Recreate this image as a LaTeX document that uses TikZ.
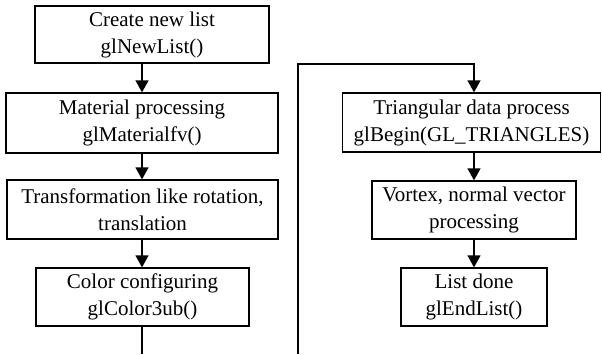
\documentclass[tikz,border=0pt]{standalone}
\usepackage{fontspec}
\setmainfont{Liberation Serif}
\usetikzlibrary{arrows.meta}
\begin{document}
\begin{tikzpicture}[x=1pt,y=1pt,
  box/.style={draw,line width=1.3pt,rectangle,inner sep=0pt,align=center,
    font=\fontsize{21}{27}\selectfont},
  flow/.style={line width=1.3pt,-{Triangle[width=13pt,length=12pt]}},
  plain/.style={line width=1.3pt}]
\useasboundingbox (0,0) rectangle (602,-354);
\node[box,minimum width=234pt,minimum height=57pt] (b1) at (152,-34.5) {Create new list\\glNewList()};
\node[box,minimum width=272pt,minimum height=60pt] (b2) at (142,-123) {Material processing\\glMaterialfv()};
\node[box,minimum width=271pt,minimum height=59pt] (b3) at (142.5,-209.5) {Transformation like rotation,\\translation};
\node[box,minimum width=213pt,minimum height=58pt] (b4) at (142.5,-297) {Color configuring\\glColor3ub()};
\node[box,minimum width=258pt,minimum height=59pt] (b5) at (471.5,-122.5) {Triangular data process\\glBegin(GL\_TRIANGLES)};
\node[box,minimum width=204pt,minimum height=58pt] (b6) at (474,-210) {Vortex, normal vector\\processing};
\node[box,minimum width=146pt,minimum height=58pt] (b7) at (474,-297) {List done\\glEndList()};
\coordinate (lend) at (142,-354);
\coordinate (rstart) at (298,-354);
\coordinate (rtop) at (298,-64);
\coordinate (rcorner) at (474,-64);
\draw[flow] (b1.south -| b2.north) -- (b2.north);
\draw[flow] (b2.south) -- (b3.north -| b2.south);
\draw[flow] (b3.south -| b2.south) -- (b4.north -| b2.south);
\draw[plain] (b4.south -| lend) -- (lend);
\draw[flow] (rstart) -- (rtop) -- (rcorner) -- (rcorner |- b5.north);
\draw[flow] (b5.south -| b6.north) -- (b6.north);
\draw[flow] (b6.south) -- (b7.north);
\end{tikzpicture}
\end{document}
